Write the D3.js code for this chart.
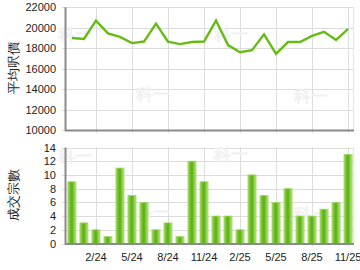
<!DOCTYPE html>
<html><head><meta charset="utf-8">
<script src="https://cdn.jsdelivr.net/npm/d3@7"></script>
<style>body{margin:0;background:#fff}svg{display:block}text{font-family:"Liberation Sans",Arial,sans-serif}</style>
</head><body>
<script>
const months = ["12/23","1/24","2/24","3/24","4/24","5/24","6/24","7/24","8/24","9/24","10/24","11/24","12/24","1/25","2/25","3/25","4/25","5/25","6/25","7/25","8/25","9/25","10/25","11/25"];
const avgPrice = [19000,18900,20700,19450,19100,18500,18650,20400,18650,18400,18600,18650,20700,18300,17600,17800,19350,17450,18600,18600,19200,19600,18800,19900];
const deals = [9,3,2,1,11,7,6,2,3,1,12,9,4,4,2,10,7,6,8,4,4,5,6,13];
const tickLabels = ["2/24","5/24","8/24","11/24","2/25","5/25","8/25","11/25"];
const priceTicks = [10000,12000,14000,16000,18000,20000,22000];
const dealTicks = [0,2,4,6,8,10,12,14];

const W=360,H=270;
const svg=d3.select("body").append("svg").attr("width",W).attr("height",H);
const defs=svg.append("defs");
const g=defs.append("linearGradient").attr("id","bar").attr("x1","0").attr("x2","1");
[[0,"#a4dc66"],[0.2,"#7cc534"],[0.5,"#5aad0e"],[0.75,"#86cc44"],[1,"#b4e486"]].forEach(s=>g.append("stop").attr("offset",s[0]).attr("stop-color",s[1]));

const L=66,R=354;
const x=d3.scaleBand().domain(months).range([L,R]).paddingInner(0.33).paddingOuter(0.16);
const cx=m=>x(m)+x.bandwidth()/2;

function panel(top,bottom,domain,ticks){
  const y=d3.scaleLinear().domain(domain).range([bottom,top]);
  const p=svg.append("g");
  p.append("rect").attr("x",L).attr("y",top).attr("width",R-L).attr("height",bottom-top).attr("fill","#fff");
  p.selectAll("line.h").data(ticks).join("line").attr("x1",L-4).attr("x2",R).attr("y1",d=>Math.round(y(d))+0.5).attr("y2",d=>Math.round(y(d))+0.5).attr("stroke","#dcdcdc");
  p.selectAll("line.v").data(tickLabels).join("line").attr("x1",d=>Math.round(cx(d))+0.5).attr("x2",d=>Math.round(cx(d))+0.5).attr("y1",top).attr("y2",bottom+3).attr("stroke","#dcdcdc");
  p.append("line").attr("x1",R-0.5).attr("x2",R-0.5).attr("y1",top).attr("y2",bottom).attr("stroke","#e4e4e4");
  p.selectAll("text.t").data(ticks).join("text").attr("x",56).attr("y",d=>y(d)+4).attr("text-anchor","end").attr("font-size",11).attr("fill","#222").text(d=>d);
  return {p,y};
}
function axes(p,top,bottom){
  p.append("line").attr("x1",L-0.5).attr("x2",L-0.5).attr("y1",top).attr("y2",bottom+1).attr("stroke","#8a8a8a").attr("stroke-width",2);
  p.append("line").attr("x1",L-1).attr("x2",R).attr("y1",bottom+0.5).attr("y2",bottom+0.5).attr("stroke","#8a8a8a").attr("stroke-width",2);
}
function watermark(p,pos){
  pos.forEach(([a,b])=>p.append("text").attr("x",a).attr("y",b).attr("font-size",17).attr("font-weight","bold").attr("fill","#f1f1f1").attr("font-family","Noto Sans CJK SC").text("科一"));
}

// top
const T=panel(7.3,130,[10000,22000],priceTicks);
watermark(T.p,[[58,40],[136,100],[214,40],[294,102]]);
T.p.append("path").datum(avgPrice).attr("fill","none").attr("stroke","#66bb14").attr("stroke-width",2.4).attr("stroke-linejoin","miter")
  .attr("d",d3.line().x((d,i)=>cx(months[i])).y(d=>T.y(d)));
axes(T.p,7.3,130);
svg.append("text").attr("transform","translate(18,68) rotate(-90)").attr("text-anchor","middle").attr("font-size",13).attr("fill","#222").attr("font-family","Noto Sans CJK TC").text("平均呎價");

// bottom
const B=panel(147.5,243.5,[0,14],dealTicks);
watermark(B.p,[[58,162],[136,218],[214,160],[294,220]]);
B.p.selectAll("rect.bar").data(deals).join("rect").attr("x",(d,i)=>x(months[i])).attr("width",x.bandwidth())
  .attr("y",d=>B.y(d)).attr("height",d=>B.y(0)-B.y(d)).attr("fill","url(#bar)").attr("stroke","#9ed862").attr("stroke-width",0.8);
axes(B.p,147.5,243.5);
svg.selectAll("text.x").data(tickLabels).join("text").attr("x",d=>cx(d)).attr("y",261).attr("text-anchor","middle").attr("font-size",11).attr("fill","#222").text(d=>d);
svg.append("text").attr("transform","translate(18,195) rotate(-90)").attr("text-anchor","middle").attr("font-size",13).attr("fill","#222").attr("font-family","Noto Sans CJK TC").text("成交宗數");
</script>
</body></html>
